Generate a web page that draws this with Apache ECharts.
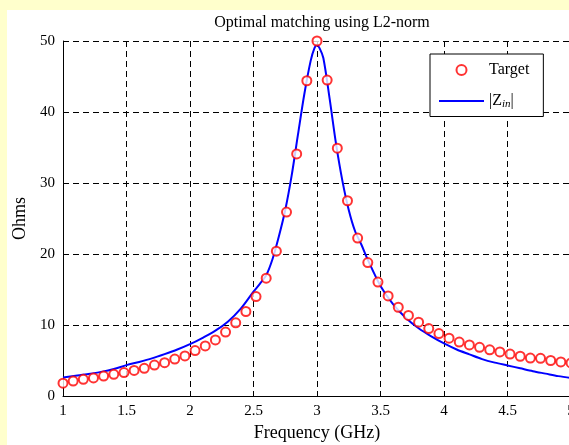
<!DOCTYPE html>
<html>
<head>
<meta charset="utf-8">
<script src="https://cdn.jsdelivr.net/npm/echarts@6/dist/echarts.min.js"></script>
<style>
  html, body { margin: 0; padding: 0; width: 569px; height: 445px; overflow: hidden; background: #ffffcc; }
  #main { position: absolute; left: 7px; top: 10px; width: 600px; height: 440px; background: #ffffff; }
</style>
</head>
<body>
<div id="main"></div>
<script>
// target samples (red circles)
var targetFreq = [1.00, 1.08, 1.16, 1.24, 1.32, 1.40, 1.48, 1.56, 1.64, 1.72, 1.80, 1.88, 1.96, 2.04, 2.12, 2.20, 2.28, 2.36, 2.44, 2.52,
  2.60, 2.68, 2.76, 2.84, 2.92, 3.00, 3.08, 3.16, 3.24, 3.32, 3.40, 3.48, 3.56, 3.64, 3.72, 3.80, 3.88, 3.96, 4.04, 4.12,
  4.20, 4.28, 4.36, 4.44, 4.52, 4.60, 4.68, 4.76, 4.84, 4.92, 5.00];
var targetOhms = [1.8, 2.1, 2.35, 2.55, 2.8, 3.05, 3.3, 3.6, 3.9, 4.35, 4.7, 5.2, 5.65, 6.4, 7.05, 7.9, 9.0, 10.3, 11.9, 14.0,
  16.6, 20.4, 25.9, 34.1, 44.4, 50.0, 44.5, 34.9, 27.5, 22.25, 18.8, 16.05, 14.1, 12.5, 11.35, 10.4, 9.5, 8.8, 8.15, 7.6,
  7.2, 6.85, 6.5, 6.2, 5.9, 5.6, 5.35, 5.3, 5.0, 4.8, 4.65];

// |Zin| curve (blue line)
var zinFreq = [1.0, 1.1, 1.2, 1.3, 1.4, 1.5, 1.6, 1.7, 1.8, 1.9, 2.0, 2.1, 2.2, 2.3, 2.4, 2.5, 2.55, 2.6, 2.65, 2.7,
  2.75, 2.8, 2.85, 2.9, 2.95, 2.98, 3.0, 3.02, 3.05, 3.1, 3.15, 3.2, 3.25, 3.3, 3.35, 3.4, 3.5, 3.6, 3.7, 3.8,
  3.9, 4.0, 4.1, 4.2, 4.3, 4.4, 4.5, 4.6, 4.7, 4.8, 4.9, 5.0];
var zinOhms = [2.6, 2.85, 3.1, 3.4, 3.8, 4.35, 4.8, 5.3, 5.9, 6.55, 7.3, 8.2, 9.2, 10.5, 12.3, 14.7, 15.8, 17.0, 19.3, 22.5,
  26.2, 31.0, 36.8, 42.5, 47.2, 49.0, 49.4, 49.0, 47.6, 41.8, 35.5, 30.3, 26.2, 23.2, 21.3, 19.2, 15.5, 12.9, 11.0, 9.55,
  8.4, 7.4, 6.55, 5.87, 5.2, 4.7, 4.3, 3.9, 3.5, 3.15, 2.8, 2.55];

var xTicks = { min: 1, max: 5, step: 0.5 };
var yTicks = { min: 0, max: 50, step: 10 };

(function(){
	var myChart = echarts.init(document.getElementById('main'));
	var serif = 'Liberation Serif, Times New Roman, serif';
	var targetData = targetFreq.map(function(f, i){ return [f, targetOhms[i]]; });
	var zinData = zinFreq.map(function(f, i){ return [f, zinOhms[i]]; });

	var option = {
		animation: false,
		title: {
			text: 'Optimal matching using L2-norm',
			left: 310,
			top: 0,
			textAlign: 'center',
			textStyle: { fontFamily: serif, fontSize: 16, fontWeight: 'normal', color: '#000' }
		},
		legend: {
			orient: 'vertical',
			left: 423,
			top: 44,
			padding: [8, 14, 7, 8],
			itemGap: 15,
			itemWidth: 45,
			itemHeight: 10,
			backgroundColor: '#fff',
			borderColor: '#000',
			borderWidth: 1,
			borderRadius: 0,
			textStyle: {
				fontFamily: serif, fontSize: 16, color: '#000',
				rich: {
					sub: { fontFamily: serif, fontSize: 11, fontStyle: 'italic', verticalAlign: 'bottom', padding: [6, 0, 0, 0] }
				}
			},
			formatter: function(name){
				return name === 'Zin' ? '|Z{sub|in}|' : name;
			},
			data: [
				{ name: 'Target', icon: 'emptyCircle' },
				{ name: 'Zin', itemStyle: { opacity: 0 } }
			]
		},
		grid: {
			left: 56,
			top: 31,
			width: 508,
			height: 355,
			outerBoundsMode: 'none'
		},
		xAxis: {
			type: 'value',
			min: xTicks.min,
			max: xTicks.max,
			interval: xTicks.step,
			name: 'Frequency (GHz)',
			nameLocation: 'middle',
			nameGap: 28,
			nameTextStyle: { fontFamily: serif, fontSize: 18, color: '#000' },
			axisLine: { show: true, lineStyle: { color: '#000', width: 1 } },
			axisTick: { show: true, inside: true, length: 5, lineStyle: { color: '#000' } },
			axisLabel: { fontFamily: serif, fontSize: 15, color: '#000', margin: 8 },
			splitLine: { show: true, lineStyle: { color: '#000', type: [6, 4], width: 1 } }
		},
		yAxis: {
			type: 'value',
			min: yTicks.min,
			max: yTicks.max,
			interval: yTicks.step,
			name: 'Ohms',
			nameLocation: 'middle',
			nameGap: 29,
			nameTextStyle: { fontFamily: serif, fontSize: 18, color: '#000' },
			axisLine: { show: true, lineStyle: { color: '#000', width: 1 } },
			axisTick: { show: true, inside: true, length: 5, lineStyle: { color: '#000' } },
			axisLabel: { fontFamily: serif, fontSize: 15, color: '#000', margin: 8 },
			splitLine: { show: true, lineStyle: { color: '#000', type: [6, 4], width: 1 } }
		},
		series: [
			{
				name: 'Target',
				type: 'scatter',
				z: 3,
				symbol: 'emptyCircle',
				symbolSize: 9,
				itemStyle: { color: '#ff0000', borderColor: '#ff0000', borderWidth: 2 },
				data: targetData
			},
			{
				name: 'Zin',
				type: 'line',
				symbol: 'none',
				smooth: 0.3,
				lineStyle: { color: '#0000ff', width: 2 },
				itemStyle: { color: '#0000ff' },
				data: zinData
			}
		]
	};
	myChart.setOption(option);
})();
</script>
</body>
</html>
